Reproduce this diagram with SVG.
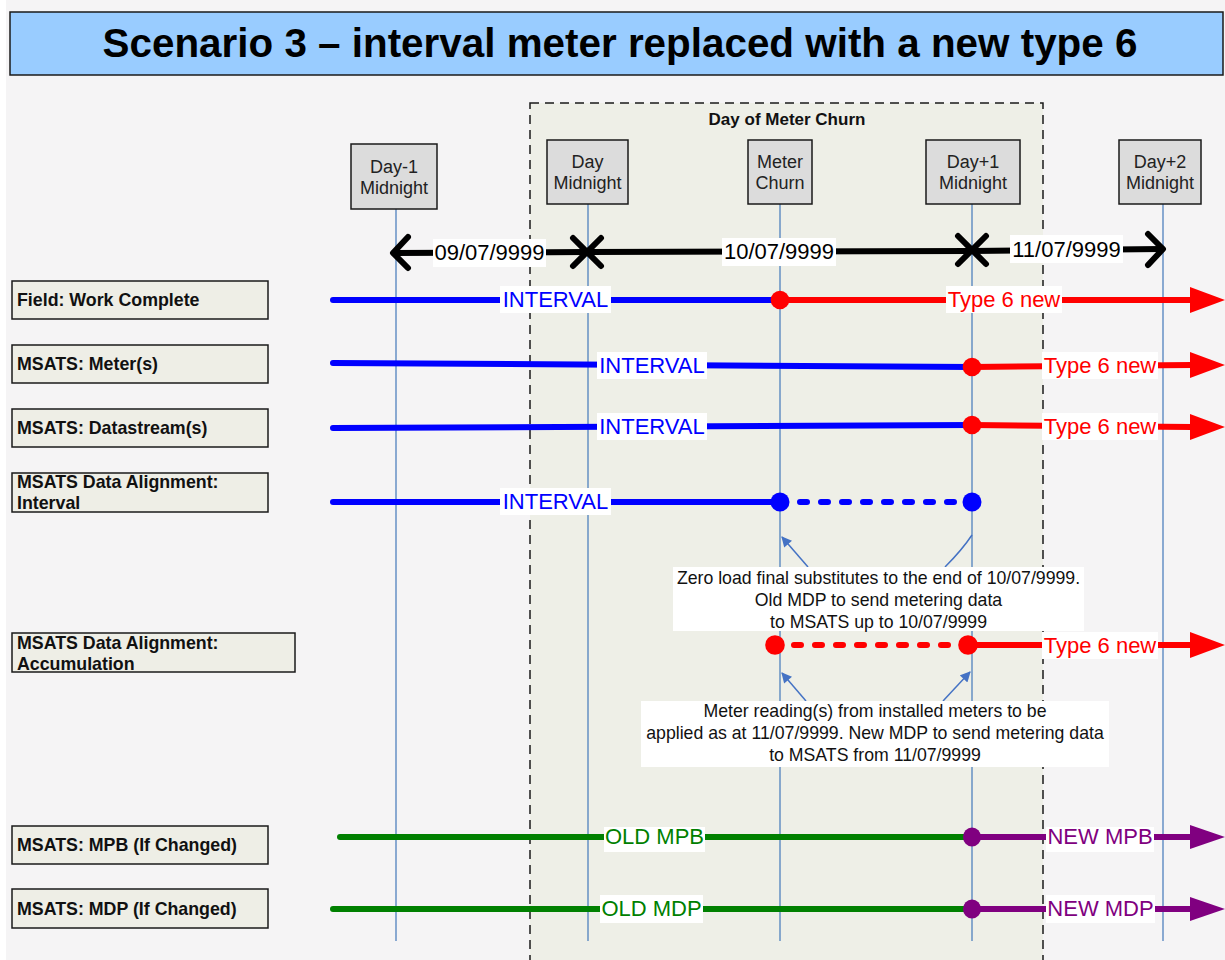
<svg xmlns="http://www.w3.org/2000/svg" width="1225" height="960" viewBox="0 0 1225 960">
<defs>
<style>
.hdr{fill:#dcdcdc;stroke:#1a1a1a;stroke-width:1.5}
.hdt{font-family:"Liberation Sans",Arial,sans-serif;font-size:18px;fill:#222;text-anchor:middle}
.row{fill:#eeeee6;stroke:#1a1a1a;stroke-width:1.5}
.rowt{font-family:"Liberation Sans",Arial,sans-serif;font-size:17.8px;font-weight:bold;fill:#111}
.vl{stroke:#4f81bd;stroke-width:1.3;fill:none}
.lbl{fill:#ffffff}
.lt{font-family:"Liberation Sans",Arial,sans-serif;font-size:22px;text-anchor:middle}
.blue{stroke:#0000ff;stroke-width:6;fill:none;stroke-linecap:round}
.red{stroke:#ff0000;stroke-width:6;fill:none;stroke-linecap:round}
.green{stroke:#008000;stroke-width:6;fill:none;stroke-linecap:round}
.purple{stroke:#800080;stroke-width:6;fill:none;stroke-linecap:butt}
.ann{font-family:"Liberation Sans",Arial,sans-serif;font-size:17.7px;fill:#111;text-anchor:middle}
.con{stroke:#4472c4;stroke-width:1.5;fill:none}
.blk{stroke:#000;stroke-width:6;fill:none;stroke-linecap:round;stroke-linejoin:round}
</style>
<marker id="ah" viewBox="0 0 10 10" refX="9" refY="5" markerWidth="7.5" markerHeight="7" orient="auto" markerUnits="strokeWidth">
<path d="M0,0 L10,5 L0,10 z" fill="#4472c4"/>
</marker>
</defs>

<rect x="0" y="0" width="1225" height="960" fill="#f5f4f5"/>
<rect x="0" y="0" width="6" height="960" fill="#ffffff"/>

<g id="title">
<rect x="10" y="12" width="1213" height="63" fill="#99ccff" stroke="#1a1a1a" stroke-width="1.5"/>
<text x="620" y="57" font-family="'Liberation Sans',Arial,sans-serif" font-size="40.4" font-weight="bold" text-anchor="middle" fill="#000">Scenario 3 – interval meter replaced with a new type 6</text>
</g>

<g id="churn-day">
<rect x="530" y="103" width="513" height="870" fill="#eeefe7" stroke="#1a1a1a" stroke-width="1.5" stroke-dasharray="9 6"/>
<text x="787" y="125" font-family="'Liberation Sans',Arial,sans-serif" font-size="17" font-weight="bold" text-anchor="middle" fill="#111">Day of Meter Churn</text>
</g>

<g id="lifelines">
<line class="vl" x1="396" y1="209" x2="396" y2="941"/>
<line class="vl" x1="588" y1="204" x2="588" y2="941"/>
<line class="vl" x1="780" y1="204" x2="780" y2="941"/>
<line class="vl" x1="972" y1="204" x2="972" y2="941"/>
<line class="vl" x1="1163" y1="204" x2="1163" y2="941"/>
</g>

<g id="hdr-day-1">
<rect class="hdr" x="351" y="144" width="86" height="65"/>
<text class="hdt" x="394" y="173">Day-1</text>
<text class="hdt" x="394" y="194">Midnight</text>
</g>
<g id="hdr-day">
<rect class="hdr" x="547" y="140" width="81" height="64"/>
<text class="hdt" x="587.5" y="168">Day</text>
<text class="hdt" x="587.5" y="189">Midnight</text>
</g>
<g id="hdr-churn">
<rect class="hdr" x="748" y="140" width="64" height="64"/>
<text class="hdt" x="780" y="168">Meter</text>
<text class="hdt" x="780" y="189">Churn</text>
</g>
<g id="hdr-day+1">
<rect class="hdr" x="926" y="140" width="94" height="64"/>
<text class="hdt" x="973" y="168">Day+1</text>
<text class="hdt" x="973" y="189">Midnight</text>
</g>
<g id="hdr-day+2">
<rect class="hdr" x="1119" y="140" width="82" height="64"/>
<text class="hdt" x="1160" y="168">Day+2</text>
<text class="hdt" x="1160" y="189">Midnight</text>
</g>

<g id="row-labels">
<g id="lbl-field"><rect class="row" x="12" y="281" width="256" height="38"/><text class="rowt" x="17" y="306">Field: Work Complete</text></g>
<g id="lbl-meters"><rect class="row" x="12" y="345" width="256" height="38"/><text class="rowt" x="17" y="370">MSATS: Meter(s)</text></g>
<g id="lbl-ds"><rect class="row" x="12" y="409" width="256" height="38"/><text class="rowt" x="17" y="434">MSATS: Datastream(s)</text></g>
<g id="lbl-int"><rect class="row" x="12" y="473" width="256" height="39"/><text class="rowt" x="17" y="488">MSATS Data Alignment:</text><text class="rowt" x="17" y="509">Interval</text></g>
<g id="lbl-acc"><rect class="row" x="12" y="633" width="283" height="39"/><text class="rowt" x="17" y="649">MSATS Data Alignment:</text><text class="rowt" x="17" y="670">Accumulation</text></g>
<g id="lbl-mpb"><rect class="row" x="12" y="826" width="256" height="38"/><text class="rowt" x="17" y="851">MSATS: MPB (If Changed)</text></g>
<g id="lbl-mdp"><rect class="row" x="12" y="889" width="256" height="39"/><text class="rowt" x="17" y="915">MSATS: MDP (If Changed)</text></g>
</g>

<g id="connectors">
<g id="date-line">
<polyline class="blk" points="394,253 587,252 972,251 1162,249"/>
<polyline class="blk" points="408,237 393,253 408,268"/>
<polyline class="blk" points="1148,234 1163,249 1148,265"/>
<path class="blk" d="M573,238 L601,266 M573,266 L601,238"/>
<path class="blk" d="M958,236 L986,264 M958,264 L986,236"/>
<rect class="lbl" x="433" y="239" width="113" height="28"/>
<text class="lt" x="489.5" y="260" fill="#000">09/07/9999</text>
<rect class="lbl" x="722" y="238" width="114" height="28"/>
<text class="lt" x="779" y="259" fill="#000">10/07/9999</text>
<rect class="lbl" x="1010" y="235" width="113" height="28"/>
<text class="lt" x="1066.5" y="257" fill="#000">11/07/9999</text>
</g>

<g id="c-field">
<line class="blue" x1="333" y1="300" x2="780" y2="300"/>
<line class="red" x1="780" y1="300" x2="1192" y2="300" stroke-linecap="butt"/>
<polygon points="1190,287 1225,300 1190,313" fill="#ff0000"/>
<circle cx="780" cy="300" r="9.3" fill="#ff0000"/>
<rect class="lbl" x="500" y="286" width="111" height="27"/>
<text class="lt" x="555.5" y="307" fill="#0000ff">INTERVAL</text>
<rect class="lbl" x="946" y="286" width="116" height="27"/>
<text class="lt" x="1004" y="307" fill="#ff0000">Type 6 new</text>
</g>

<g id="c-meters">
<line class="blue" x1="333" y1="363" x2="972" y2="367"/>
<line class="red" x1="972" y1="367" x2="1192" y2="365" stroke-linecap="butt"/>
<polygon points="1190,352 1225,365 1190,378" fill="#ff0000"/>
<circle cx="972" cy="367" r="9.3" fill="#ff0000"/>
<rect class="lbl" x="597" y="352" width="110" height="27"/>
<text class="lt" x="652" y="373" fill="#0000ff">INTERVAL</text>
<rect class="lbl" x="1042" y="352" width="116" height="27"/>
<text class="lt" x="1100" y="373" fill="#ff0000">Type 6 new</text>
</g>

<g id="c-ds">
<line class="blue" x1="333" y1="428" x2="972" y2="425"/>
<line class="red" x1="972" y1="425" x2="1192" y2="427" stroke-linecap="butt"/>
<polygon points="1190,414 1225,427 1190,440" fill="#ff0000"/>
<circle cx="972" cy="425" r="9.3" fill="#ff0000"/>
<rect class="lbl" x="597" y="413" width="110" height="27"/>
<text class="lt" x="652" y="434" fill="#0000ff">INTERVAL</text>
<rect class="lbl" x="1042" y="413" width="116" height="27"/>
<text class="lt" x="1100" y="434" fill="#ff0000">Type 6 new</text>
</g>

<g id="c-int">
<line class="blue" x1="333" y1="502" x2="780" y2="502"/>
<line class="blue" x1="800" y1="502" x2="960" y2="502" stroke-dasharray="7 14"/>
<circle cx="780" cy="502" r="9.5" fill="#0000ff"/>
<circle cx="972" cy="502" r="9.5" fill="#0000ff"/>
<rect class="lbl" x="500" y="488" width="111" height="27"/>
<text class="lt" x="555.5" y="509" fill="#0000ff">INTERVAL</text>
</g>

<g id="c-acc">
<line class="red" x1="794" y1="645" x2="955" y2="645" stroke-dasharray="7 14"/>
<line class="red" x1="968" y1="645" x2="1192" y2="645" stroke-linecap="butt"/>
<polygon points="1190,632 1225,645 1190,658" fill="#ff0000"/>
<circle cx="775" cy="645" r="9.8" fill="#ff0000"/>
<circle cx="968" cy="645" r="9.8" fill="#ff0000"/>
<rect class="lbl" x="1042" y="632" width="116" height="27"/>
<text class="lt" x="1100" y="653" fill="#ff0000">Type 6 new</text>
</g>

<g id="c-mpb">
<line class="green" x1="340" y1="837" x2="972" y2="837"/>
<line class="purple" x1="972" y1="837" x2="1192" y2="837"/>
<polygon points="1190,825 1225,837 1190,849" fill="#800080"/>
<ellipse cx="972" cy="837" rx="9" ry="9.5" fill="#800080"/>
<rect class="lbl" x="604" y="827" width="101" height="25"/>
<text class="lt" x="654.5" y="844" fill="#008000">OLD MPB</text>
<rect class="lbl" x="1046" y="827" width="108" height="25"/>
<text class="lt" x="1100" y="844" fill="#800080">NEW MPB</text>
</g>

<g id="c-mdp">
<line class="green" x1="333" y1="909" x2="972" y2="909"/>
<line class="purple" x1="972" y1="909" x2="1192" y2="909"/>
<polygon points="1190,897 1225,909 1190,921" fill="#800080"/>
<ellipse cx="972" cy="909" rx="9" ry="9.5" fill="#800080"/>
<rect class="lbl" x="600" y="895" width="103" height="28"/>
<text class="lt" x="651.5" y="916" fill="#008000">OLD MDP</text>
<rect class="lbl" x="1046" y="895" width="109" height="28"/>
<text class="lt" x="1100.5" y="916" fill="#800080">NEW MDP</text>
</g>

<g id="c-ann">
<line class="con" x1="808" y1="567" x2="782" y2="537" marker-end="url(#ah)"/>
<path class="con" d="M945,567 Q962,550 972,535"/>
<line class="con" x1="806" y1="701" x2="782" y2="673" marker-end="url(#ah)"/>
<line class="con" x1="943" y1="701" x2="970" y2="672" marker-end="url(#ah)"/>
</g>
</g>

<g id="note-zero-load">
<rect class="lbl" x="673" y="567" width="411" height="64"/>
<text class="ann" x="878.5" y="584">Zero load final substitutes to the end of 10/07/9999.</text>
<text class="ann" x="878.5" y="606">Old MDP to send metering data</text>
<text class="ann" x="878.5" y="628">to MSATS up to 10/07/9999</text>
</g>

<g id="note-meter-reading">
<rect class="lbl" x="641" y="701" width="468" height="66"/>
<text class="ann" x="875" y="717">Meter reading(s) from installed meters to be</text>
<text class="ann" x="875" y="739">applied as at 11/07/9999. New MDP to send metering data</text>
<text class="ann" x="875" y="761">to MSATS from 11/07/9999</text>
</g>
</svg>
